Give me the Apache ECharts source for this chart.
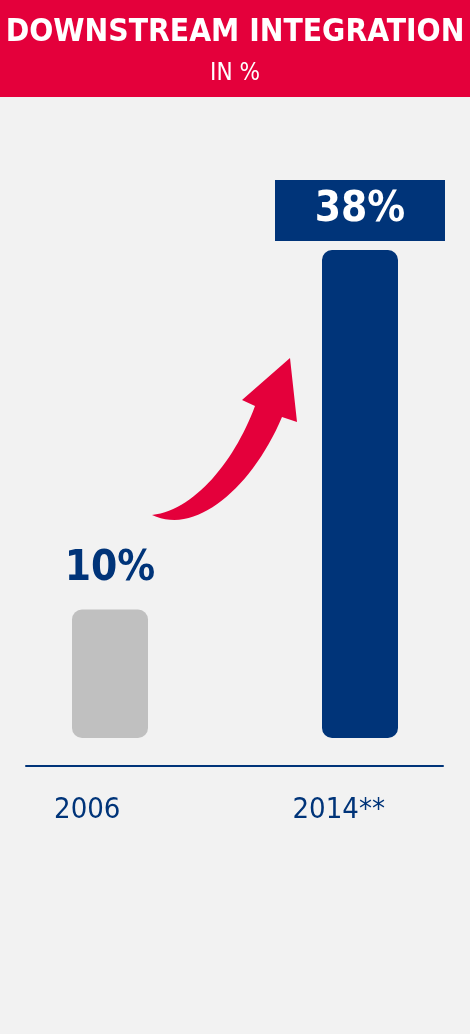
<!DOCTYPE html>
<html><head><meta charset="utf-8">
<script src="https://cdn.jsdelivr.net/npm/echarts@6/dist/echarts.min.js"></script>
<style>html,body{margin:0;padding:0;background:#f2f2f2}#c{width:470px;height:1034px}</style>
</head><body><div id="c"></div>
<script>
const categories = ['2006', '2014**'];
const positions = [0, 1];
const values = [10, 38];
const labels = ['10%', '38%'];
const barColors = ['#c0c0c0', '#003479'];

const FONT = '"DejaVu Sans Condensed", "DejaVu Sans", sans-serif';
const NAVY = '#003479';
const RED = '#e4003b';

// decorative arrow outline (cubic bezier edges sampled into a polygon)
function cubic(p0, p1, p2, p3, n) {
  const pts = [];
  for (let i = 0; i <= n; i++) {
    const t = i / n, u = 1 - t;
    pts.push([
      u*u*u*p0[0] + 3*u*u*t*p1[0] + 3*u*t*t*p2[0] + t*t*t*p3[0],
      u*u*u*p0[1] + 3*u*u*t*p1[1] + 3*u*t*t*p2[1] + t*t*t*p3[1]
    ]);
  }
  return pts;
}
const arrowPts = [].concat(
  cubic([152,515], [195,536], [252,488], [282,417], 30),
  [[297,422], [290,358], [242,400]],
  cubic([255,406], [235,460], [195,510], [152,515], 30)
);

const chart = echarts.init(document.getElementById('c'));
chart.setOption({
  backgroundColor: '#f2f2f2',
  animation: false,
  title: {
    text: 'DOWNSTREAM INTEGRATION',
    subtext: 'IN %',
    left: 'center', top: 12, itemGap: 13,
    textStyle: {color: '#fff', fontFamily: FONT, fontWeight: 'bold', fontSize: 31.5},
    subtextStyle: {color: '#fff', fontFamily: FONT, fontSize: 24}
  },
  graphic: [
    {type: 'rect', z: -1, shape: {x: 0, y: 0, width: 470, height: 97}, style: {fill: RED}},
    {type: 'polygon', shape: {points: arrowPts}, style: {fill: RED}}
  ],
  grid: [
    {left: 26, right: 27, top: 96, bottom: 296},
    {left: 26, right: 27, top: 96, bottom: 268}
  ],
  xAxis: [
    {type: 'value', gridIndex: 0, min: -0.336, max: 1.332, show: false},
    {type: 'category', gridIndex: 1, data: [
        {value: categories[0], textStyle: {padding: [0, 86, 0, 0]}},
        categories[1]
      ],
      axisLine: {show: true, lineStyle: {color: NAVY, width: 2}}, axisTick: {show: false},
      axisLabel: {margin: 30, color: NAVY, fontFamily: FONT, fontSize: 29}}
  ],
  yAxis: [
    {type: 'value', gridIndex: 0, min: 0, max: 50, show: false},
    {type: 'value', gridIndex: 1, min: 0, max: 50, show: false}
  ],
  series: [{
    type: 'bar', xAxisIndex: 0, yAxisIndex: 0, barWidth: 76,
    data: values.map((v, i) => ({
      value: [positions[i], v],
      itemStyle: {color: barColors[i], borderRadius: 10},
      label: i === 0 ? {
        show: true, position: 'top', distance: 20, formatter: labels[i],
        color: NAVY, fontFamily: FONT, fontWeight: 'bold', fontSize: 42
      } : {
        show: true, position: 'top', distance: 9, formatter: labels[i],
        color: '#fff', fontFamily: FONT, fontWeight: 'bold', fontSize: 42,
        backgroundColor: NAVY, width: 170, height: 61, lineHeight: 61, align: 'center', verticalAlign: 'bottom'
      }
    }))
  }]
});
</script></body></html>
